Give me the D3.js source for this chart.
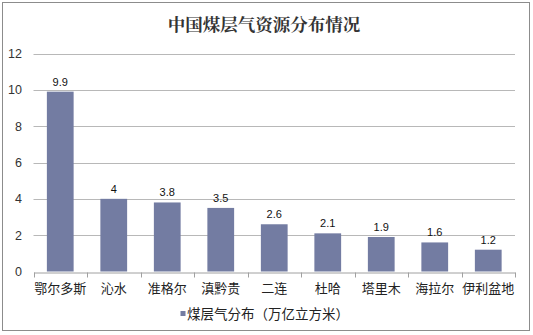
<!DOCTYPE html>
<html><head><meta charset="utf-8">
<script src="https://cdn.jsdelivr.net/npm/d3@7/dist/d3.min.js"></script>
<style>body{margin:0;background:#fff}svg{display:block}</style>
</head><body>
<svg id="c" width="533" height="335"></svg>
<script>
const categories = ["鄂尔多斯","沁水","准格尔","滇黔贵","二连","杜哈","塔里木","海拉尔","伊利盆地"];
const values = [9.9, 4, 3.8, 3.5, 2.6, 2.1, 1.9, 1.6, 1.2];
const yTicks = [0, 2, 4, 6, 8, 10, 12];
const title = "中国煤层气资源分布情况";
const seriesName = "煤层气分布（万亿立方米）";

const svg = d3.select("#c");
const font = "'Noto Sans CJK SC', 'Liberation Sans', Arial, sans-serif";
const barColor = "#737ca2";

svg.append("rect").attr("x",2.5).attr("y",2.5).attr("width",527).attr("height",328)
  .attr("fill","#fff").attr("stroke","#8c8c8c").attr("stroke-width",1);

const x = d3.scaleBand().domain(categories).range([33.5, 515]).paddingInner(0.5).paddingOuter(0.25);
const y = d3.scaleLinear().domain([0, 12]).range([271.5, 53.5]);

// gridlines
svg.append("g").selectAll("line").data(yTicks.filter(d=>d>0)).join("line")
  .attr("x1",33.5).attr("x2",515).attr("y1",d=>Math.round(y(d))+0.5).attr("y2",d=>Math.round(y(d))+0.5)
  .attr("stroke","#b8b8b8").attr("stroke-width",1);

// y labels
svg.append("g").selectAll("text").data(yTicks).join("text")
  .attr("x",22).attr("y",d=>y(d)).attr("dy","0.35em").attr("text-anchor","end")
  .attr("font-family","'Liberation Sans', Arial, sans-serif").attr("font-size",12.5).attr("fill","#333")
  .text(d=>d);

// bars
svg.append("g").selectAll("rect").data(values).join("rect")
  .attr("x",(d,i)=>x(categories[i])).attr("width",x.bandwidth())
  .attr("y",d=>y(d)).attr("height",d=>y(0)-y(d)).attr("fill",barColor);

// value labels
svg.append("g").selectAll("text").data(values).join("text")
  .attr("x",(d,i)=>x(categories[i])+x.bandwidth()/2).attr("y",d=>y(d)-10).attr("dy","0.35em")
  .attr("text-anchor","middle").attr("font-family","'Liberation Sans', Arial, sans-serif")
  .attr("font-size",11).attr("fill","#111").text(d=>d);

// x axis
const xAxis = d3.axisBottom(x).tickSize(0).tickFormat(d=>d);
const gx = svg.append("g").attr("transform",`translate(0,${Math.round(y(0))+0.5})`).call(xAxis);
gx.select(".domain").attr("stroke","#a0a0a0");
gx.selectAll(".tick text").attr("font-family",font).attr("font-size",13).attr("fill","#222")
  .attr("y",0).attr("dy","1.55em");
const step = x.step();
const bounds = d3.range(categories.length+1).map(i=>x.range()[0] + i*step);
gx.selectAll(".bnd").data(bounds).join("line").attr("class","bnd")
  .attr("x1",d=>Math.round(d)+0.5).attr("x2",d=>Math.round(d)+0.5).attr("y1",0).attr("y2",5)
  .attr("stroke","#a0a0a0");

// title
svg.append("text").attr("x",264).attr("y",25).attr("dy","0.35em").attr("text-anchor","middle")
  .attr("font-family","'Noto Serif CJK SC','Noto Sans CJK SC',serif").attr("font-weight","bold")
  .attr("font-size",17.5).attr("fill","#333").text(title);

// legend
svg.append("rect").attr("x",180.5).attr("y",311).attr("width",5).attr("height",5).attr("fill",barColor);
svg.append("text").attr("x",187).attr("y",314).attr("dy","0.35em").attr("font-family",font)
  .attr("font-size",13.5).attr("fill","#222").text(seriesName);
</script>
</body></html>
